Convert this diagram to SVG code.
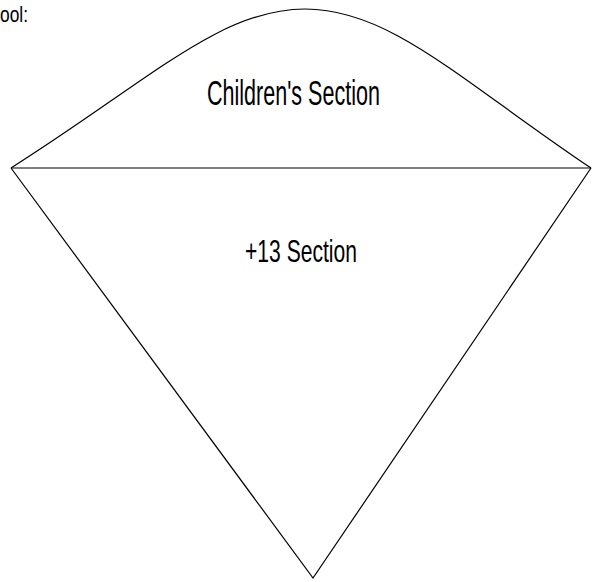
<svg xmlns="http://www.w3.org/2000/svg" width="592" height="582" viewBox="0 0 592 582">
<style>
.ln{fill:none;stroke:#000;stroke-width:1.2}
.t{font-family:"Liberation Sans",Arial,sans-serif;fill:#000}
</style>
<rect width="592" height="582" fill="#fff"/>
<text class="t" x="0" y="22" font-size="22" textLength="28" lengthAdjust="spacingAndGlyphs">ool:</text>
<g id="connectors">
<path class="ln" d="M11,168 C150,80 220,9 305,9 C390,9 460,80 591,168"/>
<line class="ln" x1="11" y1="168" x2="591" y2="168"/>
<polyline class="ln" points="11,168 313,578 591,168"/>
</g>
<g id="childrens-section">
<text class="t" x="207" y="105" font-size="35" textLength="173" lengthAdjust="spacingAndGlyphs">Children's Section</text>
</g>
<g id="plus13-section">
<text class="t" x="245" y="262" font-size="32" textLength="112" lengthAdjust="spacingAndGlyphs">+13 Section</text>
</g>
</svg>
